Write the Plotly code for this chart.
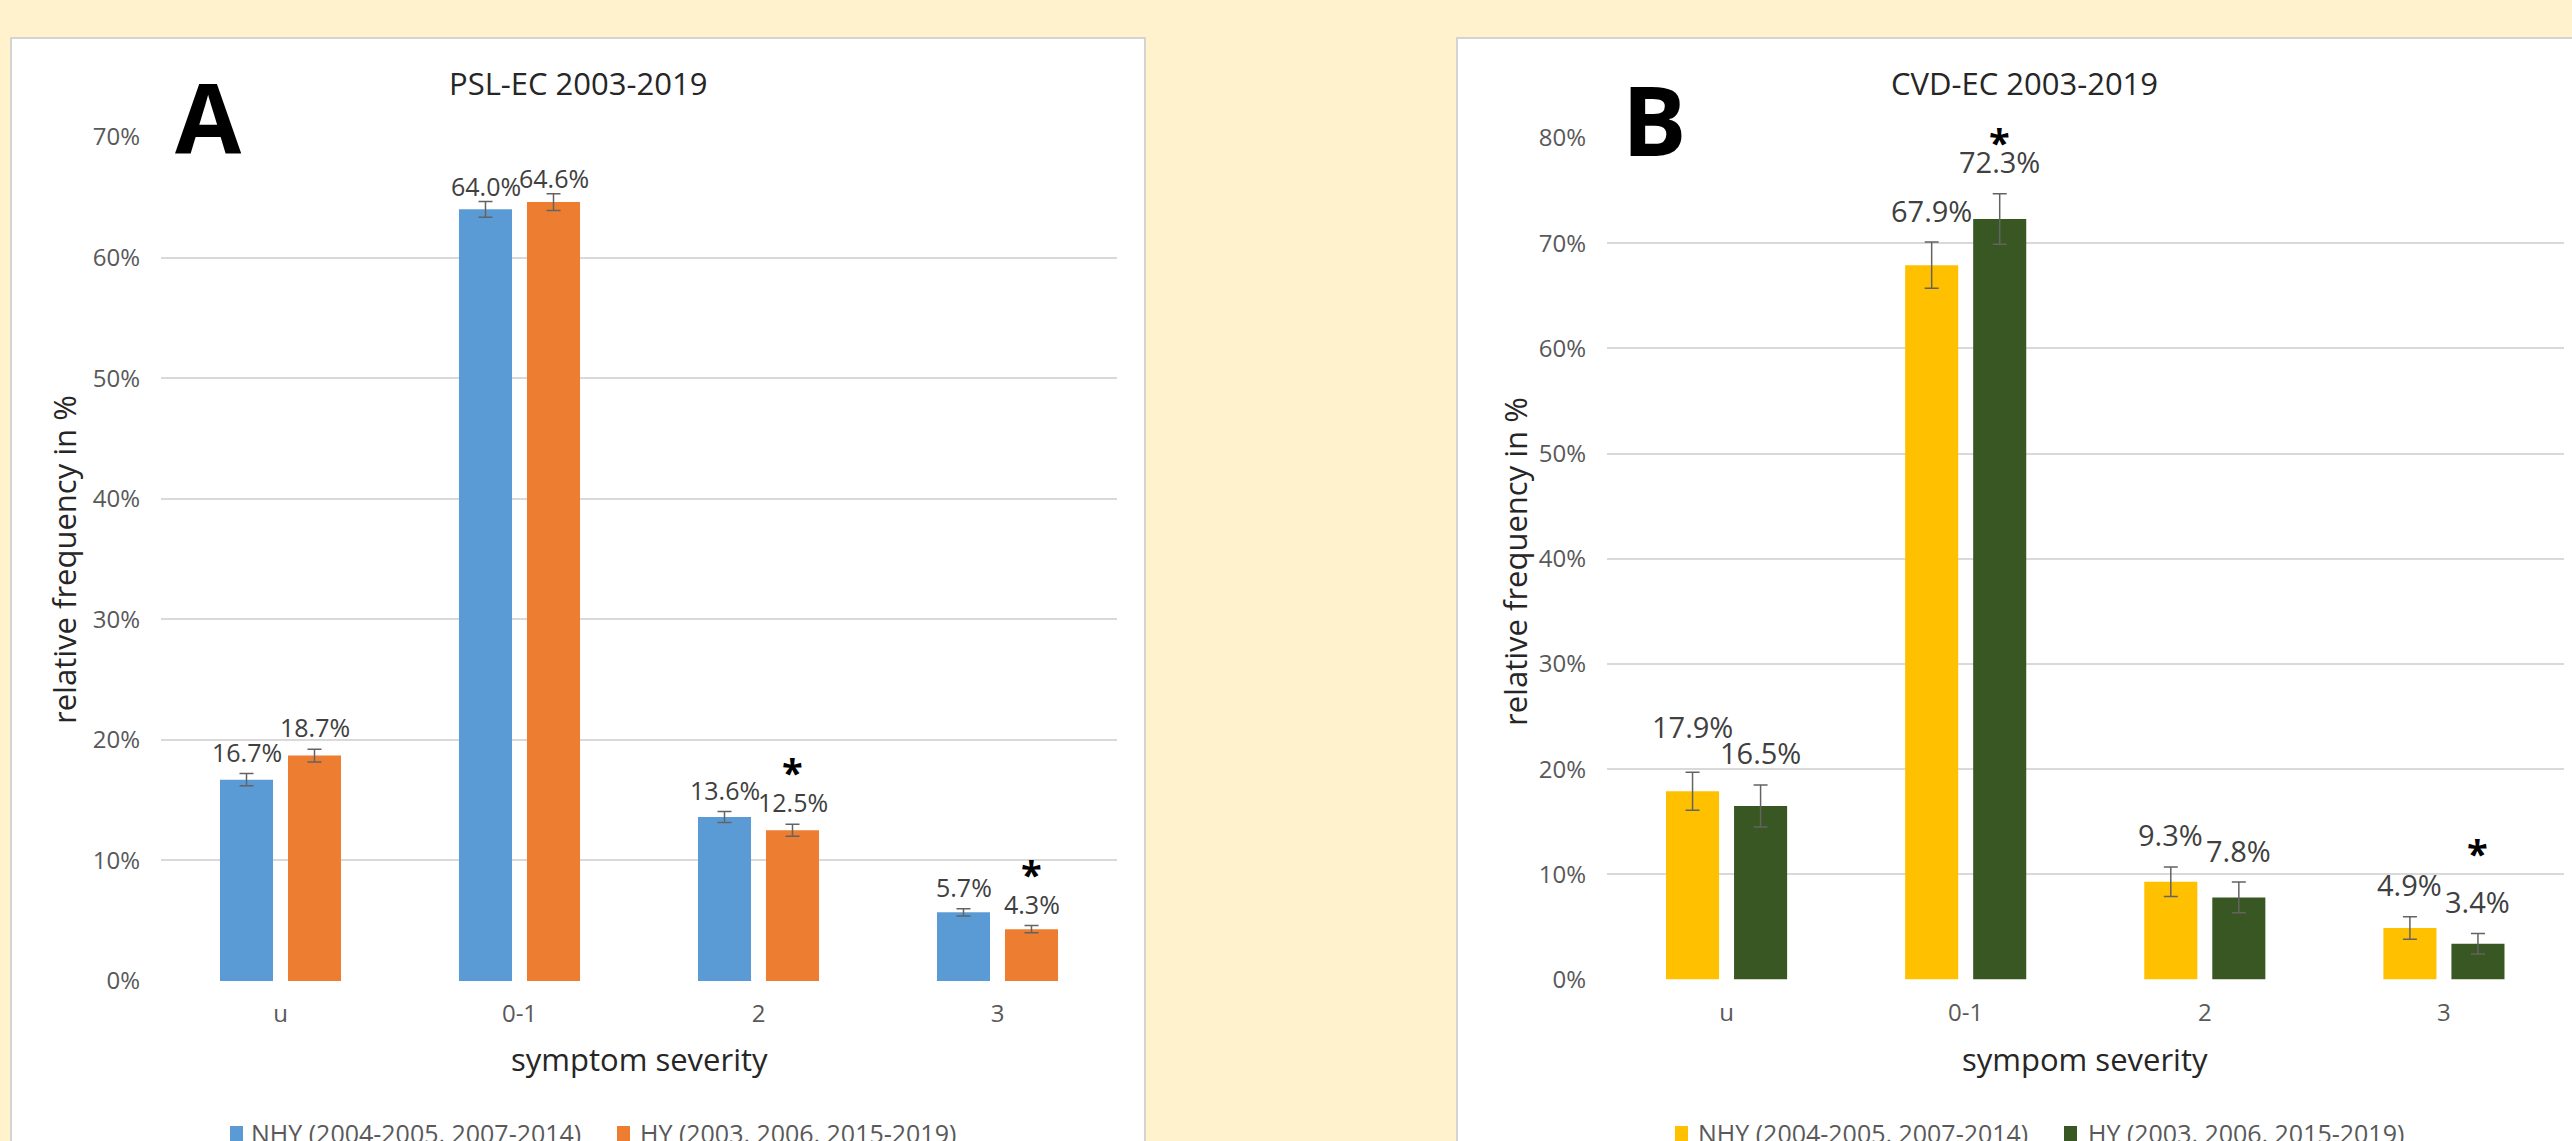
import plotly.graph_objects as go

# ---------------- data ----------------
categories = ["u", "0-1", "2", "3"]

psl_nhy = [16.7, 64.0, 13.6, 5.7]
psl_nhy_err = [0.50, 0.65, 0.45, 0.30]
psl_hy = [18.7, 64.6, 12.5, 4.3]
psl_hy_err = [0.53, 0.70, 0.50, 0.30]
psl_hy_sig = ["", "", "*", "*"]

cvd_nhy = [17.9, 67.9, 9.3, 4.9]
cvd_nhy_err = [1.80, 2.20, 1.40, 1.07]
cvd_hy = [16.5, 72.3, 7.8, 3.4]
cvd_hy_err = [2.00, 2.40, 1.46, 0.98]
cvd_hy_sig = ["", "*", "", "*"]

name_nhy = "NHY (2004-2005, 2007-2014)"
name_hy = "HY (2003, 2006, 2015-2019)"
title_a = "PSL-EC 2003-2019"
title_b = "CVD-EC 2003-2019"
xtitle_a = "symptom severity"
xtitle_b = "sympom severity"
ytitle = "relative frequency in %"

# ---------------- style ----------------
W, H = 2572, 1141
FONT = "Open Sans, Segoe UI, Lato, sans-serif"
CREAM = "#FFF2CC"
GRID = "#d9d9d9"
TICK_C = "#595959"
LABEL_C = "#404040"
ERR_C = "#636363"
C_BLUE, C_ORANGE = "#5B9BD5", "#ED7D31"
C_YELLOW, C_GREEN = "#FFC000", "#385723"
SLOT = 34  # px offset of each bar from the category centre
# extra vertical nudges (px) for hand-placed labels
LABEL_NUDGE_A = {"0-1": -6}
LABEL_NUDGE_B_NHY = {"u": 14}
SIG_NUDGE_B = {"3": 28}


def px(xp):
    return xp / W


def py(yp):
    return 1 - yp / H


fig = go.Figure()


def add_bars(vals, errs, name, color, xa, ya):
    fig.add_trace(go.Bar(
        x=categories, y=vals, name=name, marker_color=color,
        marker_line_width=0,
        error_y=dict(type="data", array=errs, visible=True, color=ERR_C,
                     thickness=1.5, width=7),
        xaxis=xa, yaxis=ya, showlegend=False,
    ))


add_bars(psl_nhy, psl_nhy_err, name_nhy, C_BLUE, "x", "y")
add_bars(psl_hy, psl_hy_err, name_hy, C_ORANGE, "x", "y")
add_bars(cvd_nhy, cvd_nhy_err, name_nhy, C_YELLOW, "x2", "y2")
add_bars(cvd_hy, cvd_hy_err, name_hy, C_GREEN, "x2", "y2")

annotations = []


def add_labels(vals, errs, side, xref, yref, size, shift, nudge=None):
    nudge = nudge or {}
    for c, v, e in zip(categories, vals, errs):
        annotations.append(dict(
            x=c, y=v + e, xref=xref, yref=yref, xshift=side * SLOT,
            yshift=shift + nudge.get(c, 0),
            text=f"{v:.1f}%", showarrow=False, yanchor="middle",
            font=dict(family=FONT, size=size, color=LABEL_C)))


def add_sig(vals, errs, sig, xref, yref, shift, nudge=None):
    nudge = nudge or {}
    for c, v, e, s in zip(categories, vals, errs, sig):
        if s:
            annotations.append(dict(
                x=c, y=v + e, xref=xref, yref=yref, xshift=SLOT,
                yshift=shift + nudge.get(c, 0),
                text=f"<b>{s}</b>", showarrow=False, yanchor="middle",
                font=dict(family=FONT, size=38, color="black")))


add_labels(psl_nhy, psl_nhy_err, -1, "x", "y", 25, 22, LABEL_NUDGE_A)
add_labels(psl_hy, psl_hy_err, 1, "x", "y", 25, 22, LABEL_NUDGE_A)
add_labels(cvd_nhy, cvd_nhy_err, -1, "x2", "y2", 29, 32, LABEL_NUDGE_B_NHY)
add_labels(cvd_hy, cvd_hy_err, 1, "x2", "y2", 29, 32)
add_sig(psl_hy, psl_hy_err, psl_hy_sig, "x", "y", 52)
add_sig(cvd_hy, cvd_hy_err, cvd_hy_sig, "x2", "y2", 52, SIG_NUDGE_B)

# titles, panel letters, axis titles
for text, x, y, size, extra in [
    (title_a, 578, 83, 31, {}),
    (title_b, 2024, 83, 31, {}),
    (xtitle_a, 639, 1059, 31, {}),
    (xtitle_b, 2085, 1059, 31, {}),
    (ytitle, 64, 560, 31, {"textangle": -90}),
    (ytitle, 1515, 562, 31, {"textangle": -90}),
]:
    annotations.append(dict(
        x=px(x), y=py(y), xref="paper", yref="paper", text=text, showarrow=False,
        xanchor="center", yanchor="middle",
        font=dict(family=FONT, size=size, color="#262626"), **extra))

for text, x, y in [("A", 208, 116), ("B", 1654, 119)]:
    annotations.append(dict(
        x=px(x), y=py(y), xref="paper", yref="paper", text=f"<b>{text}</b>",
        showarrow=False, xanchor="center", yanchor="middle",
        font=dict(family=FONT, size=96, color="black")))

shapes = []
for x0, x1 in [(11, 1145), (1457, 2591)]:
    shapes.append(dict(type="rect", xref="paper", yref="paper",
                       x0=px(x0), x1=px(x1), y0=-0.1, y1=py(38),
                       fillcolor="white", line=dict(color="#d4d4d4", width=2),
                       layer="below"))

# hand-drawn legends (swatch + text), one per panel
LEG_Y = 1133
for sw_x, txt_x, color, name in [
    (230, 249, C_BLUE, name_nhy),
    (617, 638, C_ORANGE, name_hy),
    (1675, 1696, C_YELLOW, name_nhy),
    (2064, 2086, C_GREEN, name_hy),
]:
    shapes.append(dict(type="rect", xref="paper", yref="paper",
                       x0=px(sw_x), x1=px(sw_x + 13), y0=py(1155), y1=py(1126),
                       fillcolor=color, line=dict(width=0), layer="above"))
    annotations.append(dict(
        x=px(txt_x), y=py(LEG_Y), xref="paper", yref="paper", text=name,
        showarrow=False, xanchor="left", yanchor="middle",
        font=dict(family=FONT, size=25, color=TICK_C)))

xaxis_style = dict(type="category", showgrid=False, showline=False, zeroline=False,
                   ticks="", ticklabelstandoff=16, automargin=False,
                   tickfont=dict(family=FONT, size=24, color=TICK_C))
yaxis_style = dict(showgrid=True, gridcolor=GRID, gridwidth=1.5, zeroline=False,
                   showline=False, ticks="", dtick=10, ticksuffix="%",
                   ticklabelstandoff=20, automargin=False,
                   tickfont=dict(family=FONT, size=24, color=TICK_C))

fig.update_layout(
    width=W, height=H, margin=dict(l=0, r=0, t=0, b=0, pad=0, autoexpand=False),
    paper_bgcolor=CREAM, plot_bgcolor="white",
    barmode="group", bargap=0.431, bargroupgap=0.22,
    xaxis=dict(domain=[px(161), px(1117)], anchor="y", **xaxis_style),
    yaxis=dict(domain=[py(981), py(137)], anchor="x", range=[0, 70], **yaxis_style),
    xaxis2=dict(domain=[px(1607), px(2563.5)], anchor="y2", **xaxis_style),
    yaxis2=dict(domain=[py(979.5), py(137.9)], anchor="x2", range=[0, 80], **yaxis_style),
    annotations=annotations,
    shapes=shapes,
    showlegend=False,
)

fig.write_html(
    "out.html",
    config={"displayModeBar": False},
    post_script="document.body.style.margin='0';document.body.style.overflow='hidden';",
)
